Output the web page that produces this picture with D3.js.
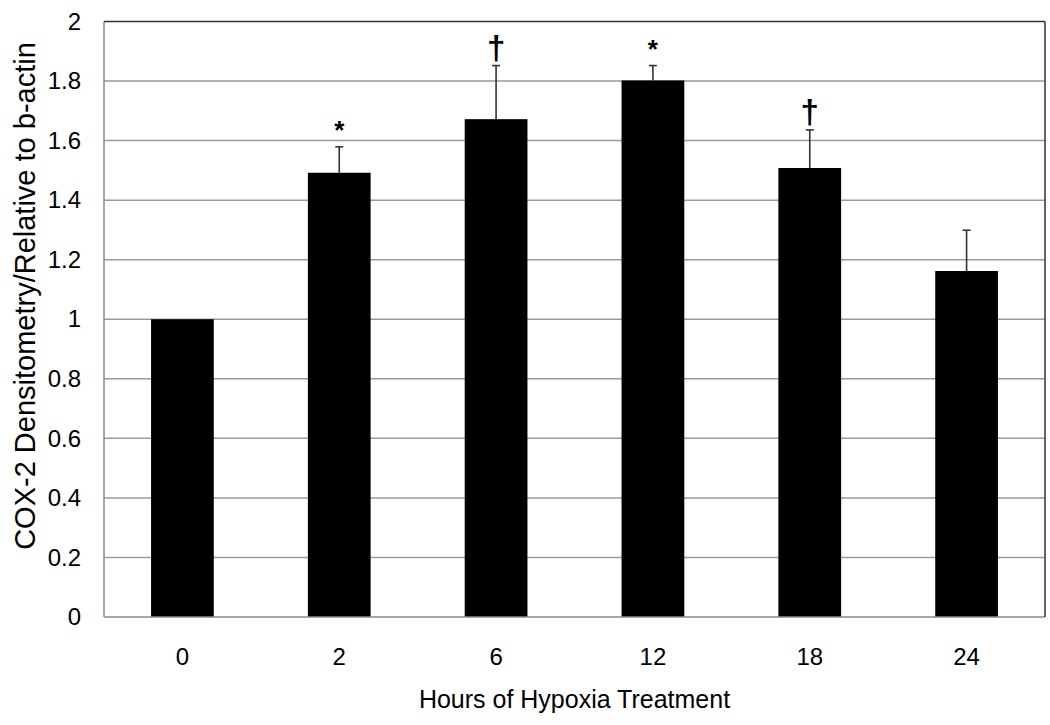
<!DOCTYPE html>
<html><head><meta charset="utf-8">
<script src="https://cdn.jsdelivr.net/npm/d3@7"></script>
<style>body{margin:0;background:#fff}svg{display:block}text{font-family:"Liberation Sans",Arial,Helvetica,sans-serif}</style>
</head><body>
<svg id="c" width="1050" height="725"></svg>
<script>
const categories = ["0","2","6","12","18","24"];
const values = [1.0, 1.492, 1.672, 1.802, 1.508, 1.162];
const errors = [0.0, 0.087, 0.18, 0.05, 0.128, 0.137];
const marks = ["", "*", "†", "*", "†", ""];
const yTicks = [0,0.2,0.4,0.6,0.8,1,1.2,1.4,1.6,1.8,2];
const yTickLabels = ["0","0.2","0.4","0.6","0.8","1","1.2","1.4","1.6","1.8","2"];
const xTitle = "Hours of Hypoxia Treatment";
const yTitle = "COX-2 Densitometry/Relative to b-actin";

const svg = d3.select("#c");
const L=104, R=1045, T=21.5, B=617;
const x = d3.scaleBand().domain(categories).range([L,R]).paddingInner(0.6).paddingOuter(0.3);
const y = d3.scaleLinear().domain([0,2]).range([B,T]);

// gridlines
svg.append("g").selectAll("line").data(yTicks.slice(1,-1)).join("line")
  .attr("x1",L).attr("x2",R).attr("y1",d=>y(d)).attr("y2",d=>y(d))
  .attr("stroke","#9a9a9a").attr("stroke-width",1.5);

// bars
svg.append("g").selectAll("rect").data(values).join("rect")
  .attr("x",(d,i)=>x(categories[i])).attr("width",x.bandwidth())
  .attr("y",d=>y(d)).attr("height",d=>B-y(d)).attr("fill","#000");

// error bars
const eg = svg.append("g").attr("stroke","#333").attr("stroke-width",1.6);
values.forEach((v,i)=>{
  if(!errors[i]) return;
  const cx = x(categories[i])+x.bandwidth()/2;
  eg.append("line").attr("x1",cx).attr("x2",cx).attr("y1",y(v)).attr("y2",y(v+errors[i]));
  eg.append("line").attr("x1",cx-4).attr("x2",cx+4).attr("y1",y(v+errors[i])).attr("y2",y(v+errors[i]));
});

// significance marks
svg.append("g").selectAll("text").data(marks).join("text")
  .attr("x",(d,i)=>x(categories[i])+x.bandwidth()/2)
  .attr("y",(d,i)=>y(values[i]+errors[i]) - (d==="*"?6:7))
  .attr("text-anchor","middle")
  .attr("font-weight","bold")
  .attr("font-size",d=>d==="*"?26:33)
  .attr("dy",d=>d==="*"?"0.55em":"0")
  .attr("transform",(d,i)=>d==="*"?`translate(0,-16)`:null)
  .text(d=>d);

// frame
svg.append("line").attr("x1",L).attr("x2",L).attr("y1",T).attr("y2",B).attr("stroke","#8a8a8a").attr("stroke-width",1.5);
svg.append("line").attr("x1",L).attr("x2",R).attr("y1",B).attr("y2",B).attr("stroke","#8a8a8a").attr("stroke-width",1.5);
svg.append("line").attr("x1",L).attr("x2",R).attr("y1",T).attr("y2",T).attr("stroke","#333").attr("stroke-width",1.5);
svg.append("line").attr("x1",R).attr("x2",R).attr("y1",T).attr("y2",B).attr("stroke","#333").attr("stroke-width",1.5);

// y axis labels
const yAxis = d3.axisLeft(y).tickValues(yTicks).tickFormat((d,i)=>yTickLabels[i]).tickSize(0).tickPadding(23);
const ya = svg.append("g").attr("transform",`translate(${L},0)`).call(yAxis);
ya.select(".domain").remove();
ya.selectAll("text").attr("font-size",24).attr("fill","#000").attr("font-family","Liberation Sans, Arial, sans-serif");

// x axis labels
const xAxis = d3.axisBottom(x).tickSize(0).tickPadding(31);
const xa = svg.append("g").attr("transform",`translate(0,${B})`).call(xAxis);
xa.select(".domain").remove();
xa.selectAll("text").attr("font-size",24).attr("fill","#000").attr("font-family","Liberation Sans, Arial, sans-serif");

// titles
svg.append("text").attr("x",(L+R)/2).attr("y",708).attr("text-anchor","middle").attr("font-size",25).text(xTitle);
svg.append("text").attr("transform",`translate(35,296) rotate(-90)`).attr("text-anchor","middle").attr("font-size",29).text(yTitle);
</script>
</body></html>
